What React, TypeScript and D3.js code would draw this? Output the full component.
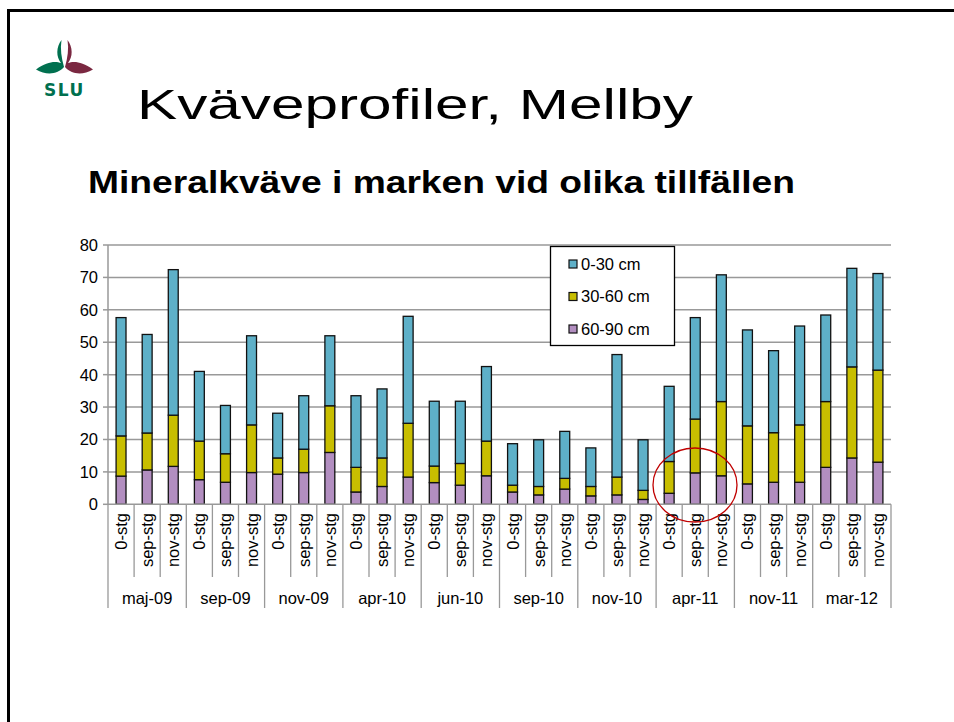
import React from "react";
import * as d3 from "d3";

const groups = ["maj-09", "sep-09", "nov-09", "apr-10", "jun-10", "sep-10", "nov-10", "apr-11", "nov-11", "mar-12"];
const subs = ["0-stg", "sep-stg", "nov-stg"];
const seriesKeys = ["60-90 cm", "30-60 cm", "0-30 cm"];
const legendOrder = ["0-30 cm", "30-60 cm", "60-90 cm"];
const colors: Record<string, string> = { "0-30 cm": "#5EB0C8", "30-60 cm": "#C8BE00", "60-90 cm": "#B28EC0" };

const v6090 = [8.7, 10.6, 11.7, 7.6, 6.8, 9.8, 9.3, 9.8, 16.0, 3.8, 5.5, 8.4, 6.7, 5.9, 8.8, 3.8, 2.9, 4.7, 2.6, 2.9, 1.5, 3.4, 9.7, 8.8, 6.3, 6.8, 6.8, 11.4, 14.3, 13.0];
const v3060 = [12.4, 11.4, 15.8, 11.9, 8.8, 14.7, 5.0, 7.2, 14.4, 7.6, 8.8, 16.6, 5.1, 6.7, 10.7, 2.1, 2.6, 3.3, 2.9, 5.5, 2.8, 9.8, 16.6, 22.9, 17.9, 15.3, 17.7, 20.3, 28.1, 28.4];
const v030 = [36.5, 30.4, 44.9, 21.5, 14.9, 27.5, 13.8, 16.5, 21.6, 22.1, 21.3, 33.0, 20.0, 19.2, 23.0, 12.8, 14.4, 14.5, 11.9, 37.8, 15.6, 23.2, 31.3, 39.1, 29.6, 25.3, 30.5, 26.7, 30.4, 29.8];
const yTicks = [0, 10, 20, 30, 40, 50, 60, 70, 80];

const FONT = "'Liberation Sans', Arial, sans-serif";
const FS = 16.5;

export default function App() {
  const left = 108, right = 891, top = 245, bottom = 504.3;
  const rows = v6090.map((_, i) => ({
    idx: i,
    group: groups[Math.floor(i / 3)],
    sub: subs[i % 3],
    "60-90 cm": v6090[i],
    "30-60 cm": v3060[i],
    "0-30 cm": v030[i],
  }));
  const x = d3.scaleBand<number>().domain(rows.map((r) => r.idx)).range([left, right]).paddingInner(0.62).paddingOuter(0.31);
  const step = x.step();
  const y = d3.scaleLinear().domain([0, 80]).range([bottom, top]);
  const stacked = d3.stack<any>().keys(seriesKeys)(rows);
  const bx = (i: number) => left + i * step;

  return (
    <svg width={954} height={722} style={{ position: "absolute", left: 0, top: 0, background: "#fff" }}>
      <rect x={0} y={0} width={954} height={722} fill="#fff" />
      {/* slide border */}
      <path d="M8.5,740 L8.5,10.5 L960,10.5" fill="none" stroke="#000" strokeWidth={3} />

      {/* SLU logo */}
      <g>
        <path d="M61.5,40 C56,47 56,57 61,63 C56,61 47,61 36,69.5 C47,76 58,74 64,67 C61.5,58 60,49 61.5,40 Z" fill="#00704F" />
        <path d="M67.5,40 C73,47 73,57 68,63 C73,61 82,61 93,69.5 C82,76 71,74 65,67 C67.5,58 69,49 67.5,40 Z" fill="#7A2841" />
        <text x={64.5} y={96} textAnchor="middle" fontFamily="'DejaVu Sans', sans-serif" fontWeight="bold" fontSize={17} fill="#00704F" letterSpacing={1.5}>SLU</text>
      </g>

      {/* titles */}
      <text x={137} y={119} fontFamily={FONT} fontSize={42} fill="#000" textLength={556} lengthAdjust="spacingAndGlyphs">Kväveprofiler, Mellby</text>
      <text x={88} y={193} fontFamily={FONT} fontWeight="bold" fontSize={31} fill="#000" textLength={707} lengthAdjust="spacingAndGlyphs">Mineralkväve i marken vid olika tillfällen</text>

      {/* gridlines */}
      {yTicks.filter((t) => t > 0).map((t) => (
        <line key={"g" + t} x1={left} x2={right} y1={y(t)} y2={y(t)} stroke="#999" strokeWidth={1.5} />
      ))}
      {/* y axis */}
      <line x1={left} x2={left} y1={top} y2={bottom} stroke="#999" strokeWidth={1.5} />
      {yTicks.map((t) => (
        <g key={"t" + t}>
          <line x1={left - 5} x2={left} y1={y(t)} y2={y(t)} stroke="#999" strokeWidth={1.5} />
          <text x={left - 10} y={y(t)} dy="0.36em" textAnchor="end" fontFamily={FONT} fontSize={FS} fill="#000">{t}</text>
        </g>
      ))}

      {/* bars */}
      {stacked.map((s) => (
        <g key={s.key}>
          {s.map((d, i) => (
            <rect key={i} x={x(i)} width={x.bandwidth()} y={y(d[1])} height={y(d[0]) - y(d[1])} fill={colors[s.key]} stroke="#111" strokeWidth={1.3} />
          ))}
        </g>
      ))}

      {/* x axis */}
      <line x1={left} x2={right} y1={bottom} y2={bottom} stroke="#999" strokeWidth={1.5} />
      {d3.range(31).map((i) => (
        <line key={"s" + i} x1={bx(i)} x2={bx(i)} y1={bottom} y2={i % 3 === 0 ? 608 : 577} stroke="#999" strokeWidth={1.3} />
      ))}
      {rows.map((r) => (
        <text key={"c" + r.idx} transform={`translate(${(x(r.idx) as number) + x.bandwidth() / 2},513) rotate(-90)`} dy="0.36em" textAnchor="end" fontFamily={FONT} fontSize={FS} fill="#000">{r.sub}</text>
      ))}
      {groups.map((g, gi) => (
        <text key={"gr" + g} x={bx(gi * 3) + step * 1.5} y={604} textAnchor="middle" fontFamily={FONT} fontSize={FS} fill="#000">{g}</text>
      ))}

      {/* legend */}
      <rect x={550.5} y={246.5} width={124} height={99} fill="#fff" stroke="#000" strokeWidth={1.3} />
      {legendOrder.map((k, i) => (
        <g key={"l" + k}>
          <rect x={569} y={264 + i * 32.5 - 4} width={8} height={8} fill={colors[k]} stroke="#111" strokeWidth={1.2} />
          <text x={581} y={264 + i * 32.5} dy="0.36em" fontFamily={FONT} fontSize={FS} fill="#000">{k}</text>
        </g>
      ))}

      {/* red circle */}
      <ellipse cx={695} cy={485} rx={42} ry={37} fill="none" stroke="#C00000" strokeWidth={1.3} />
    </svg>
  );
}
